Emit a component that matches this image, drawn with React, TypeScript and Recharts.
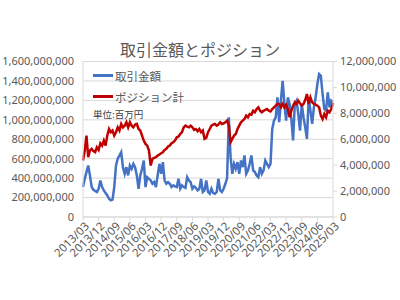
import { LineChart, Line, XAxis, YAxis, CartesianGrid, Legend } from "recharts";

const BLUE = "#4472C4";
const RED = "#C00000";
const GRID = "#D9D9D9";
const TEXT = "#595959";
const JP = '"Noto Sans CJK JP", "Noto Sans", sans-serif';
const NUM = '"Noto Sans", "DejaVu Sans", sans-serif';

// monthly categories 2013/03 .. 2025/03
const months: string[] = [];
for (let i = 0; i <= 144; i++) {
  const m = 2 + i;
  const y = 2013 + Math.floor(m / 12);
  months.push(`${y}/${String((m % 12) + 1).padStart(2, "0")}`);
}

// 取引金額 (millions, left axis)
const amount = [
  308, 393, 462, 530, 428, 308, 280, 267, 257, 290,
  376, 308, 274, 246, 222, 188, 171, 178, 308, 530,
  600, 633, 667, 513, 445, 513, 428, 530, 496, 547,
  513, 428, 291, 428, 496, 581, 308, 410, 393, 376,
  342, 359, 308, 428, 547, 445, 564, 376, 342, 359,
  342, 308, 325, 315, 308, 393, 291, 325, 308, 300,
  410, 376, 359, 291, 315, 300, 274, 290, 393, 257,
  274, 376, 257, 239, 291, 246, 239, 257, 393, 274,
  257, 291, 342, 400, 1026, 616, 445, 547, 496, 564,
  445, 581, 513, 633, 445, 479, 547, 633, 479, 462,
  428, 410, 513, 445, 479, 581, 547, 513, 547, 906,
  992, 1026, 1231, 975, 1197, 1402, 1163, 992, 1231, 1163,
  1009, 787, 1163, 1197, 1060, 889, 1163, 1026, 923, 804,
  1231, 1094, 958, 1129, 1231, 1368, 1470, 1453, 1265, 1111,
  1094, 1282, 1129, 1197, 1180,
];

// ポジション計 (millions, right axis)
const position = [
  4.36, 5.13, 6.28, 4.62, 5.13, 5.26, 5.08, 5.0, 5.38, 5.18,
  5.69, 5.51, 5.9, 5.51, 6.28, 6.79, 6.54, 6.67, 6.28, 6.54,
  6.92, 6.67, 7.18, 6.92, 7.05, 7.31, 6.92, 7.31, 7.05, 6.92,
  7.13, 7.18, 6.79, 6.67, 6.28, 5.9, 5.64, 5.51, 5.13, 3.97,
  4.49, 4.56, 4.62, 4.74, 4.82, 4.92, 5.0, 5.18, 5.26, 5.44,
  5.51, 5.69, 5.77, 5.9, 6.15, 6.21, 6.41, 6.54, 6.92, 7.05,
  6.97, 6.92, 7.05, 6.92, 6.72, 6.79, 6.62, 6.79, 6.54, 6.67,
  6.03, 6.1, 6.54, 6.79, 7.05, 7.13, 7.18, 7.05, 7.13, 7.31,
  7.18, 7.23, 7.31, 7.44, 7.05, 5.77, 6.03, 6.28, 6.41, 6.79,
  7.05, 7.31, 7.44, 7.56, 7.82, 7.69, 7.95, 7.9, 8.2, 8.08,
  8.33, 8.46, 8.2, 8.08, 8.2, 8.26, 8.33, 8.2, 8.15, 8.33,
  8.46, 8.59, 8.72, 8.72, 8.46, 8.72, 8.46, 8.67, 8.33, 7.69,
  8.2, 8.59, 8.85, 8.72, 8.97, 8.77, 8.59, 8.72, 9.03, 9.49,
  8.72, 9.23, 8.85, 8.72, 8.67, 8.59, 8.46, 7.82, 7.56, 7.95,
  7.69, 8.2, 8.08, 8.33, 8.8,
];

const leftTicks = [0, 2e8, 4e8, 6e8, 8e8, 10e8, 12e8, 14e8, 16e8];
const rightTicks = [0, 2e6, 4e6, 6e6, 8e6, 10e6, 12e6];
const legendOrder = ["取引金額", "ポジション計"];

const data = months.map((month, i) => ({
  month,
  amount: amount[i] * 1e6,
  position: position[i] * 1e6,
}));

const fmt = (v: number) => v.toLocaleString("en-US");

// eslint-disable-next-line @typescript-eslint/no-explicit-any
const XTick = (props: any) => {
  const { x, y, payload } = props;
  return (
    <g transform={`translate(${x + 4},${y + 1})`}>
      <text
        x={0}
        y={0}
        dy={4}
        textAnchor="end"
        transform="rotate(-45)"
        fill={TEXT}
        fontSize={11.5}
        fontFamily={NUM}
      >
        {payload.value}
      </text>
    </g>
  );
};

// eslint-disable-next-line @typescript-eslint/no-explicit-any
const renderLegend = (props: any) => {
  // eslint-disable-next-line @typescript-eslint/no-explicit-any
  const items = [...(props.payload || [])].sort(
    (a: any, b: any) => legendOrder.indexOf(a.value) - legendOrder.indexOf(b.value)
  );
  return (
    <div style={{ fontFamily: JP, color: TEXT }}>
      {items.map((p: any) => (
        <div key={p.value} style={{ display: "flex", alignItems: "center", height: 21, fontSize: 11.5 }}>
          <span style={{ width: 20, height: 2.5, background: p.color, marginRight: 2 }} />
          <span>{p.value}</span>
        </div>
      ))}
      <div style={{ fontSize: 9.5, color: "#404040" }}>単位:百万円</div>
    </div>
  );
};

export default function App() {
  return (
    <div style={{ position: "absolute", left: 0, top: 0, width: 400, height: 300, background: "#fff" }}>
      <div
        style={{
          position: "absolute",
          left: 0,
          top: 38,
          width: 400,
          textAlign: "center",
          fontFamily: JP,
          fontSize: 16,
          color: TEXT,
          lineHeight: "22px",
        }}
      >
        取引金額とポジション
      </div>
      <LineChart
        width={400}
        height={300}
        data={data}
        margin={{ top: 61.5, right: 0, bottom: 23, left: 0 }}
      >
        <CartesianGrid yAxisId="left" vertical={false} stroke={GRID} />
        <XAxis
          dataKey="month"
          scale="point"
          padding={{ left: 0, right: 0 }}
          interval={8}
          height={60}
          tick={<XTick />}
          tickLine={{ stroke: GRID }}
          tickSize={4}
          axisLine={{ stroke: GRID }}
        />
        <YAxis
          yAxisId="left"
          domain={[0, 1.6e9]}
          ticks={leftTicks}
          width={83}
          tickFormatter={fmt}
          tick={{ fill: TEXT, fontSize: 11, fontFamily: NUM }}
          tickLine={false}
          tickMargin={3}
          axisLine={{ stroke: GRID }}
          interval={0}
        />
        <YAxis
          yAxisId="right"
          orientation="right"
          domain={[0, 12e6]}
          ticks={rightTicks}
          width={67}
          tickFormatter={fmt}
          tick={{ fill: TEXT, fontSize: 11, fontFamily: NUM }}
          tickLine={{ stroke: GRID }}
          tickSize={4}
          tickMargin={3}
          axisLine={{ stroke: GRID }}
          interval={0}
        />
        <Legend
          layout="horizontal"
          verticalAlign="middle"
          align="center"
          content={renderLegend}
          wrapperStyle={{ left: 93, top: 65, width: 120, height: 60 }}
        />
        <Line
          yAxisId="left"
          type="linear"
          dataKey="amount"
          name="取引金額"
          stroke={BLUE}
          strokeWidth={2.5}
          dot={false}
          activeDot={false}
          isAnimationActive={false}
        />
        <Line
          yAxisId="right"
          type="linear"
          dataKey="position"
          name="ポジション計"
          stroke={RED}
          strokeWidth={2.5}
          dot={false}
          activeDot={false}
          isAnimationActive={false}
        />
      </LineChart>
    </div>
  );
}
